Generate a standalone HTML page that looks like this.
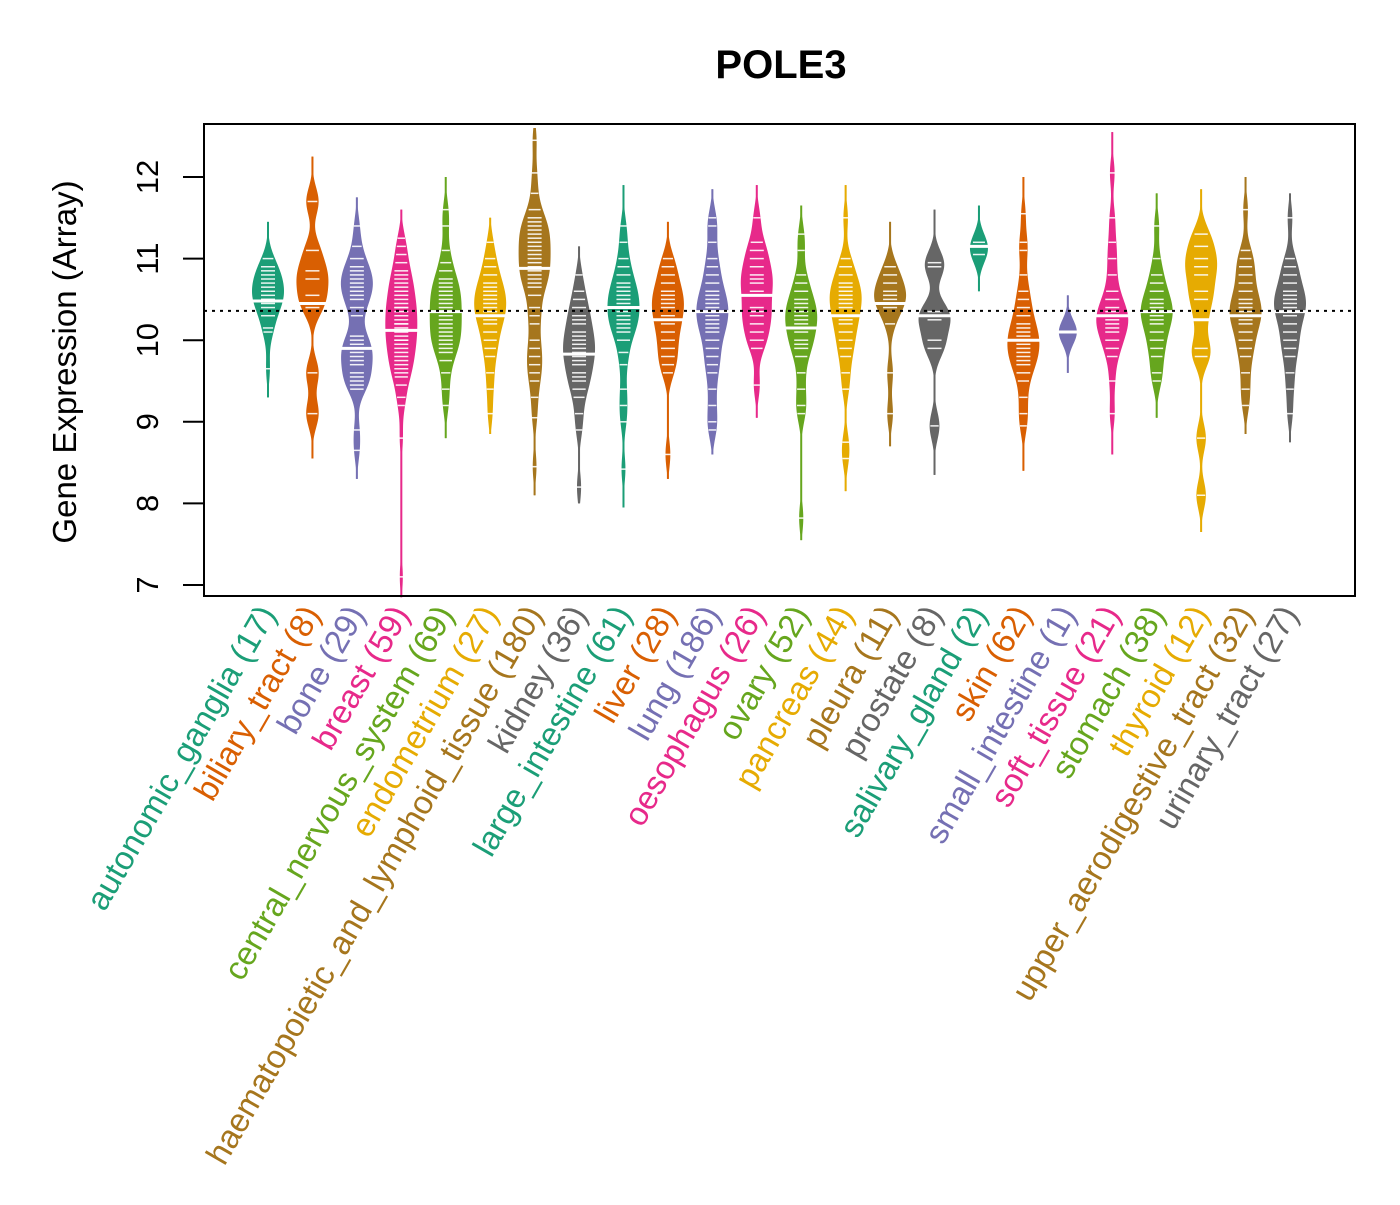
<!DOCTYPE html>
<html><head><meta charset="utf-8"><style>
body{margin:0;background:#fff}
svg text{font-family:"Liberation Sans",sans-serif}
</style></head><body>
<svg id="chart" width="1400" height="1200" viewBox="0 0 1400 1200" xmlns="http://www.w3.org/2000/svg">
<rect width="1400" height="1200" fill="#fff"/>
<text x="781" y="78" font-size="40" font-weight="bold" text-anchor="middle">POLE3</text>
<text transform="translate(76,362) rotate(-90)" font-size="33" text-anchor="middle">Gene Expression (Array)</text>
<g id="beans"></g>
<line id="refline" x1="204" x2="1355" stroke="#000" stroke-width="2" stroke-dasharray="3,5"/>
<rect x="204" y="124" width="1151" height="472" fill="none" stroke="#000" stroke-width="2"/>
<g id="yaxis"></g>
<g id="xlabels"></g>
</svg>
<script>
const categories=["autonomic_ganglia","biliary_tract","bone","breast","central_nervous_system","endometrium","haematopoietic_and_lymphoid_tissue","kidney","large_intestine","liver","lung","oesophagus","ovary","pancreas","pleura","prostate","salivary_gland","skin","small_intestine","soft_tissue","stomach","thyroid","upper_aerodigestive_tract","urinary_tract"];
const counts=[17,8,29,59,69,27,180,36,61,28,186,26,52,44,11,8,2,62,1,21,38,12,32,27];
const medians=[10.48,10.45,9.9,10.12,10.35,10.3,10.88,9.83,10.4,10.25,10.35,10.55,10.15,10.3,10.45,10.3,11.15,10.0,10.1,10.3,10.35,10.25,10.3,10.35];
const lows=[9.3,8.55,8.3,6.85,8.8,8.85,8.1,8.0,7.95,8.3,8.6,9.05,7.55,8.15,8.7,8.35,10.6,8.4,9.6,8.6,9.05,7.65,8.85,8.75];
const highs=[11.45,12.25,11.75,11.6,12.0,11.5,12.6,11.15,11.9,11.45,11.85,11.9,11.65,11.9,11.45,11.6,11.65,12.0,10.55,12.55,11.8,11.85,12.0,11.8];
const samples=[
[9.65,10.1,10.15,10.3,10.45,10.5,10.55,10.65,10.7,10.8,10.9,11.0,10.6,10.4,10.75,10.5,10.85],
[9.1,9.6,10.4,10.55,10.75,10.85,11.1,11.7],
[8.65,8.9,9.4,9.5,9.6,9.7,9.8,9.85,9.9,10.0,10.05,10.3,10.5,10.6,10.7,10.8,10.9,11.0,11.15,11.4,9.55,9.75,10.55,10.65,10.75,10.85,9.95,10.4,9.45],
[7.1,8.8,9.2,9.3,9.45,9.55,9.65,9.7,9.8,9.9,9.95,10.0,10.05,10.1,10.15,10.2,10.3,10.35,10.4,10.5,10.55,10.6,10.7,10.75,10.85,10.95,11.05,11.15,11.25,9.6,9.85,10.25,10.45,10.65,10.8,9.75,10.0,10.2,10.4],
[9.2,9.4,9.6,9.75,9.85,9.95,10.05,10.15,10.25,10.3,10.35,10.45,10.55,10.65,10.75,10.85,10.95,11.1,11.4,11.6,10.0,10.2,10.4,10.6,10.7,9.9,10.1,10.5],
[9.1,9.4,9.6,9.8,9.9,10.0,10.1,10.2,10.3,10.4,10.5,10.6,10.7,10.8,10.9,11.0,11.2,10.25,10.35,10.55,10.65,10.45],
[8.45,9.05,9.3,9.5,9.6,9.7,9.8,9.9,10.0,10.2,10.3,10.4,10.55,10.7,10.8,10.9,11.0,11.1,11.2,11.3,11.4,11.5,11.6,11.8,12.05,12.45,10.85,10.95,11.05,11.15,11.25,11.35,10.75,10.65,11.45],
[8.2,8.9,9.1,9.3,9.4,9.5,9.6,9.7,9.8,9.85,9.9,10.0,10.1,10.2,10.3,10.4,10.5,10.6,10.8,9.55,9.75,9.95,10.05,10.25],
[8.42,9.0,9.2,9.4,9.7,9.85,10.0,10.1,10.2,10.3,10.35,10.4,10.5,10.6,10.7,10.8,10.9,11.0,11.2,11.4,10.25,10.45,10.55,10.65,10.15],
[8.6,9.6,9.7,9.8,9.9,10.0,10.1,10.2,10.3,10.4,10.5,10.6,10.7,10.8,10.9,11.0,10.25,10.45,10.55],
[8.9,9.0,9.2,9.4,9.6,9.7,9.8,9.9,10.0,10.1,10.2,10.3,10.4,10.5,10.6,10.7,10.8,10.9,11.0,11.2,11.4,11.5,10.35,10.45,10.55,10.25,10.15],
[9.45,9.9,10.0,10.1,10.2,10.3,10.4,10.55,10.7,10.8,10.9,11.0,11.1,11.2,11.5,10.6,10.75,10.35],
[7.82,9.1,9.2,9.4,9.6,9.8,9.9,10.0,10.1,10.2,10.3,10.4,10.5,10.6,10.7,10.8,11.1,11.3,10.15,10.25,10.35,10.45,9.95],
[8.55,8.75,9.4,9.6,9.8,9.9,10.0,10.1,10.2,10.3,10.4,10.5,10.6,10.7,10.8,10.9,11.0,11.5,10.25,10.45,10.55,10.65],
[9.1,9.6,10.2,10.4,10.5,10.55,10.7,10.8,10.9,10.45,10.6],
[8.95,9.9,10.0,10.3,10.95,10.9,10.25,10.35],
[11.05,11.2],
[8.95,9.1,9.3,9.5,9.6,9.7,9.8,9.9,10.0,10.1,10.2,10.3,10.4,10.5,10.6,10.8,11.1,11.2,11.55,9.85,9.95,10.05,10.15,9.75],
[10.1],
[9.1,9.5,9.8,9.9,10.0,10.1,10.2,10.3,10.4,10.5,10.6,10.8,11.0,11.2,11.5,12.05,10.25,10.35,10.15],
[9.5,9.6,9.8,9.9,10.0,10.1,10.2,10.3,10.4,10.5,10.6,10.7,10.8,11.0,11.4,10.35,10.25,10.45],
[8.1,8.8,9.8,9.9,10.25,10.5,10.6,10.8,10.9,11.0,11.15,11.3],
[9.2,9.4,9.6,9.8,9.9,10.0,10.1,10.2,10.3,10.4,10.5,10.6,10.7,10.8,10.9,11.0,11.1,11.6,10.25,10.35,10.45],
[9.1,9.4,9.6,9.8,9.9,10.0,10.1,10.2,10.3,10.4,10.5,10.6,10.7,10.8,10.9,11.0,11.5,10.35,10.45,10.55]
];
const yTicks=[7,8,9,10,11,12];
const overallMean=10.36;
const colors=["#1B9E77","#D95F02","#7570B3","#E7298A","#66A61E","#E6AB02","#A6761D","#666666"];
const NS="http://www.w3.org/2000/svg";
const ys=v=>177+(12-v)*81.6;
const xs=i=>268+i*(1290-268)/23;
function mk(t,a,p){const e=document.createElementNS(NS,t);for(const k in a)e.setAttribute(k,a[k]);p.appendChild(e);return e;}
const rl=document.getElementById('refline');rl.setAttribute('y1',ys(overallMean));rl.setAttribute('y2',ys(overallMean));
const ya=document.getElementById('yaxis');
yTicks.forEach(t=>{
 const l=mk('line',{x1:183,x2:204,y1:ys(t),y2:ys(t),stroke:'#000','stroke-width':2},ya);
 
 
 const tx=mk('text',{transform:`translate(158,${ys(t)}) rotate(-90)`,'font-size':31,'text-anchor':'middle'},ya);
 tx.textContent=t;
 
 
});
const bg=document.getElementById('beans');
categories.forEach((c,i)=>{
 const col=colors[i%8],cx=xs(i),s=samples[i];
 const g=mk('g',{},bg);
 
 
 const bw=s.length>2?0.17:0.15;
 const lo=lows[i],hi=highs[i],N=120,dens=[];
 for(let k=0;k<=N;k++){const v=lo+(hi-lo)*k/N;let d=0;s.forEach(x=>{const z=(v-x)/bw;d+=Math.exp(-0.5*z*z);});dens.push([v,d]);}
 const mx=Math.max(...dens.map(d=>d[1]));
 const maxW=s.length<3?9:16;
 const w=d=>Math.max(1,d/mx*maxW);
 mk('line',{x1:cx,x2:cx,y1:ys(lo),y2:ys(hi),stroke:col,'stroke-width':1.5},g);
 let pts=dens.map(d=>`${cx+w(d[1])},${ys(d[0])}`);
 pts=pts.concat(dens.slice().reverse().map(d=>`${cx-w(d[1])},${ys(d[0])}`));
 mk('polygon',{points:pts.join(' '),fill:col},g);
 const wAt=v=>{let d=0;s.forEach(x=>{const z=(v-x)/bw;d+=Math.exp(-0.5*z*z);});return w(d);};
 s.forEach(v=>{const hw=Math.min(7,wAt(v)*0.55+1.5);
  const ln=mk('line',{x1:cx-hw,x2:cx+hw,y1:ys(v),y2:ys(v),stroke:'#fff','stroke-width':1.5,opacity:0.9},g);
  
  
 });
 const mw=wAt(medians[i])+3;
 const ml=mk('line',{x1:cx-mw,x2:cx+mw,y1:ys(medians[i]),y2:ys(medians[i]),stroke:'#fff','stroke-width':3},g);
 
 
 const lab=mk('text',{transform:`translate(${cx+9},614) rotate(-60)`,'font-size':33,'text-anchor':'end',fill:col},document.getElementById('xlabels'));
 lab.textContent=`${c} (${counts[i]})`;
 
 
});
</script>
</body></html>
